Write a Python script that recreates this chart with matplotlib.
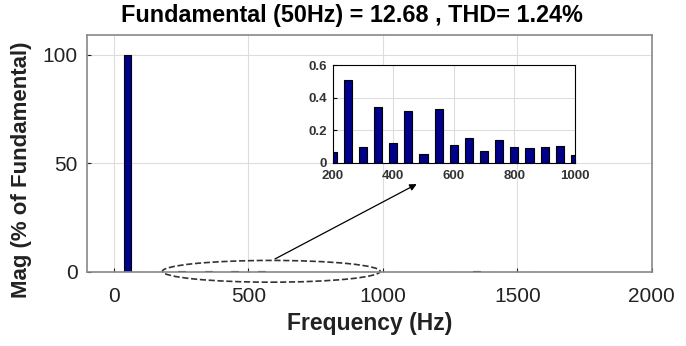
import matplotlib.pyplot as plt
from matplotlib.patches import Ellipse

plt.rcParams['font.family'] = ['Liberation Sans', 'DejaVu Sans']

# harmonic spectrum (% of fundamental)
freqs = [50, 100, 150, 200, 250, 300, 350, 400, 450, 500, 550, 600, 650, 700,
         750, 800, 850, 900, 950, 1000, 1050, 1100, 1150, 1200, 1250, 1300,
         1350, 1400, 1450, 1500, 1550, 1600, 1650]
mags = [100, 0.02, 0.04, 0.07, 0.51, 0.10, 0.34, 0.12, 0.32, 0.055, 0.33, 0.11,
        0.15, 0.075, 0.14, 0.10, 0.09, 0.10, 0.105, 0.05, 0.06, 0.05, 0.06, 0.05,
        0.06, 0.05, 0.45, 0.05, 0.06, 0.05, 0.05, 0.06, 0.05]

title = 'Fundamental (50Hz) = 12.68 , THD= 1.24%'

fig = plt.figure(figsize=(6.86, 3.46), dpi=100)
ax = fig.add_axes([0.127, 0.214, 0.823, 0.685])
ax.bar(freqs, mags, width=26, color='#00008B', edgecolor='black', linewidth=0.8)
ax.set_xlim(-100, 2000)
ax.set_ylim(0, 109)
ax.set_xticks([0, 500, 1000, 1500, 2000])
ax.set_yticks([0, 50, 100])
ax.grid(True, color='#dddddd', linewidth=0.8)
ax.set_axisbelow(True)
ax.tick_params(direction='in', labelsize=15, length=3, colors='#222222')
ax.tick_params(axis='x', pad=11)
ax.tick_params(axis='y', pad=7)
for s in ax.spines.values():
    s.set_color('#888888')
    s.set_linewidth(1.2)
fig.text(0.513, 0.955, title, fontsize=16.8, fontweight='bold', ha='center', va='center')
ax.set_xlabel('Frequency (Hz)', fontsize=16.5, fontweight='bold', color='#222222', labelpad=4)
ax.set_ylabel('Mag (% of Fundamental)', fontsize=16, fontweight='bold', color='#222222')
ax.yaxis.set_label_coords(-0.098, 0.43)

# dashed ellipse + arrow to the zoomed view
ell = Ellipse((585, 0.3), 810, 10, fill=False, linestyle='--', linewidth=1.2,
              edgecolor='#333333', clip_on=False)
ax.add_patch(ell)
ax.annotate('', xy=(1135, 41), xytext=(590, 5.4),
            arrowprops=dict(arrowstyle='-|>', color='black', lw=0.9))

# inset
ins = fig.add_axes([0.485, 0.529, 0.353, 0.283])
ins.bar(freqs, mags, width=27, color='#00008B', edgecolor='black', linewidth=0.8)
ins.set_xlim(200, 1000)
ins.set_ylim(0, 0.6)
ins.set_xticks([200, 400, 600, 800, 1000])
ins.set_yticks([0, 0.2, 0.4, 0.6])
ins.set_yticklabels(['0', '0.2', '0.4', '0.6'])
ins.grid(True, color='#dddddd', linewidth=0.8)
ins.set_axisbelow(True)
ins.tick_params(direction='in', labelsize=9.5, length=3)
ins.tick_params(axis='x', pad=5)
ins.tick_params(axis='y', pad=4)
for lbl in ins.get_xticklabels() + ins.get_yticklabels():
    lbl.set_fontweight('bold')
    lbl.set_color('#333333')

fig.savefig('out.png', dpi=100)
